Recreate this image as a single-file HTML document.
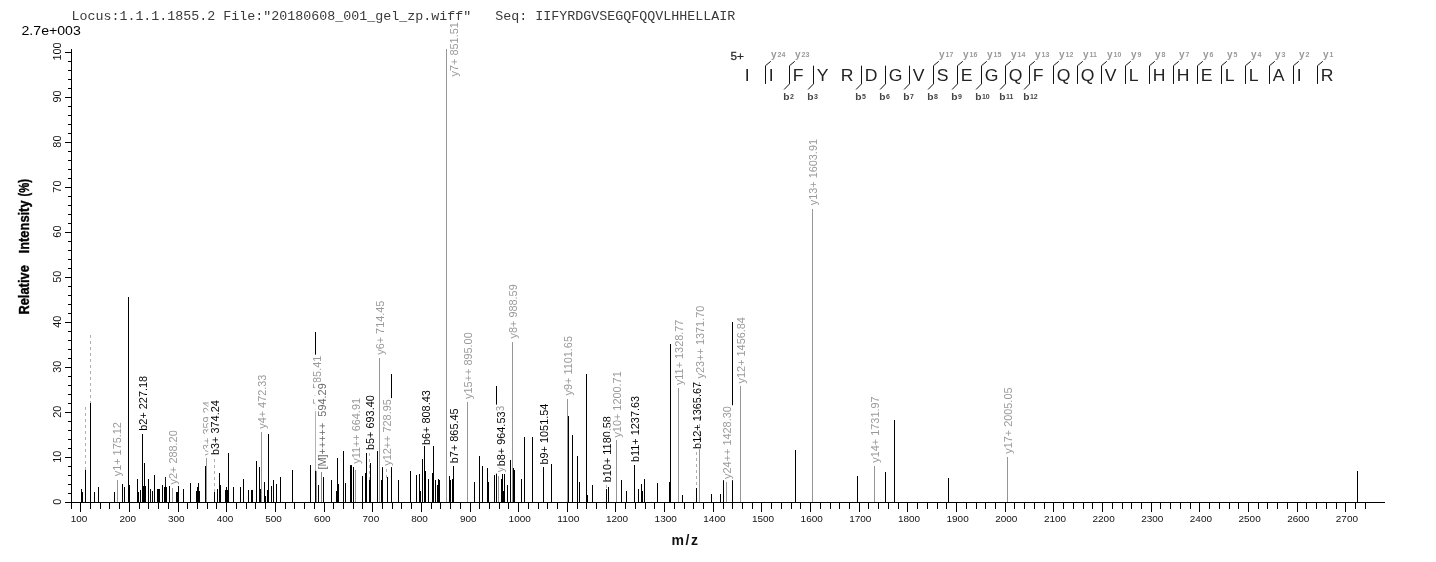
<!DOCTYPE html>
<html><head><meta charset="utf-8"><title>spectrum</title>
<style>html,body{margin:0;padding:0;background:#fff;}body{width:1436px;height:562px;overflow:hidden;position:relative;font-family:"Liberation Sans",sans-serif;}</style></head>
<body>
<svg width="1436" height="562" viewBox="0 0 1436 562" style="position:absolute;left:0;top:0;will-change:transform" font-family="'Liberation Sans', sans-serif">
<rect width="1436" height="562" fill="#fff"/>
<text x="71.4" y="20.2" font-family="'Liberation Mono', monospace" font-size="13.33" fill="#3a3a3a" xml:space="preserve">Locus:1.1.1.1855.2 File:"20180608_001_gel_zp.wiff"   Seq: IIFYRDGVSEGQFQQVLHHELLAIR</text>
<text x="21.5" y="35" font-size="12" fill="#000" textLength="59.3" lengthAdjust="spacingAndGlyphs">2.7e+003</text>
<g fill="#000" shape-rendering="crispEdges">
<rect x="71" y="49" width="1" height="454"/>
<rect x="65" y="502" width="1320" height="1"/>
<rect x="65" y="502" width="7" height="1"/>
<rect x="68" y="493" width="4" height="1"/>
<rect x="68" y="484" width="4" height="1"/>
<rect x="68" y="475" width="4" height="1"/>
<rect x="68" y="466" width="4" height="1"/>
<rect x="65" y="457" width="7" height="1"/>
<rect x="68" y="448" width="4" height="1"/>
<rect x="68" y="439" width="4" height="1"/>
<rect x="68" y="430" width="4" height="1"/>
<rect x="68" y="421" width="4" height="1"/>
<rect x="65" y="412" width="7" height="1"/>
<rect x="68" y="403" width="4" height="1"/>
<rect x="68" y="394" width="4" height="1"/>
<rect x="68" y="385" width="4" height="1"/>
<rect x="68" y="376" width="4" height="1"/>
<rect x="65" y="367" width="7" height="1"/>
<rect x="68" y="358" width="4" height="1"/>
<rect x="68" y="349" width="4" height="1"/>
<rect x="68" y="340" width="4" height="1"/>
<rect x="68" y="331" width="4" height="1"/>
<rect x="65" y="322" width="7" height="1"/>
<rect x="68" y="313" width="4" height="1"/>
<rect x="68" y="304" width="4" height="1"/>
<rect x="68" y="295" width="4" height="1"/>
<rect x="68" y="286" width="4" height="1"/>
<rect x="65" y="277" width="7" height="1"/>
<rect x="68" y="268" width="4" height="1"/>
<rect x="68" y="259" width="4" height="1"/>
<rect x="68" y="250" width="4" height="1"/>
<rect x="68" y="241" width="4" height="1"/>
<rect x="65" y="232" width="7" height="1"/>
<rect x="68" y="223" width="4" height="1"/>
<rect x="68" y="214" width="4" height="1"/>
<rect x="68" y="205" width="4" height="1"/>
<rect x="68" y="196" width="4" height="1"/>
<rect x="65" y="187" width="7" height="1"/>
<rect x="68" y="178" width="4" height="1"/>
<rect x="68" y="169" width="4" height="1"/>
<rect x="68" y="160" width="4" height="1"/>
<rect x="68" y="151" width="4" height="1"/>
<rect x="65" y="142" width="7" height="1"/>
<rect x="68" y="133" width="4" height="1"/>
<rect x="68" y="124" width="4" height="1"/>
<rect x="68" y="115" width="4" height="1"/>
<rect x="68" y="106" width="4" height="1"/>
<rect x="65" y="97" width="7" height="1"/>
<rect x="68" y="88" width="4" height="1"/>
<rect x="68" y="79" width="4" height="1"/>
<rect x="68" y="70" width="4" height="1"/>
<rect x="68" y="61" width="4" height="1"/>
<rect x="65" y="52" width="7" height="1"/>
<rect x="71" y="502" width="1" height="7"/>
<rect x="80" y="502" width="1" height="10"/>
<rect x="90" y="502" width="1" height="7"/>
<rect x="100" y="502" width="1" height="7"/>
<rect x="109" y="502" width="1" height="7"/>
<rect x="119" y="502" width="1" height="7"/>
<rect x="129" y="502" width="1" height="10"/>
<rect x="139" y="502" width="1" height="7"/>
<rect x="148" y="502" width="1" height="7"/>
<rect x="158" y="502" width="1" height="7"/>
<rect x="168" y="502" width="1" height="7"/>
<rect x="178" y="502" width="1" height="10"/>
<rect x="187" y="502" width="1" height="7"/>
<rect x="197" y="502" width="1" height="7"/>
<rect x="207" y="502" width="1" height="7"/>
<rect x="216" y="502" width="1" height="7"/>
<rect x="226" y="502" width="1" height="10"/>
<rect x="236" y="502" width="1" height="7"/>
<rect x="246" y="502" width="1" height="7"/>
<rect x="255" y="502" width="1" height="7"/>
<rect x="265" y="502" width="1" height="7"/>
<rect x="275" y="502" width="1" height="10"/>
<rect x="285" y="502" width="1" height="7"/>
<rect x="294" y="502" width="1" height="7"/>
<rect x="304" y="502" width="1" height="7"/>
<rect x="314" y="502" width="1" height="7"/>
<rect x="324" y="502" width="1" height="10"/>
<rect x="333" y="502" width="1" height="7"/>
<rect x="343" y="502" width="1" height="7"/>
<rect x="353" y="502" width="1" height="7"/>
<rect x="362" y="502" width="1" height="7"/>
<rect x="372" y="502" width="1" height="10"/>
<rect x="382" y="502" width="1" height="7"/>
<rect x="392" y="502" width="1" height="7"/>
<rect x="401" y="502" width="1" height="7"/>
<rect x="411" y="502" width="1" height="7"/>
<rect x="421" y="502" width="1" height="10"/>
<rect x="431" y="502" width="1" height="7"/>
<rect x="440" y="502" width="1" height="7"/>
<rect x="450" y="502" width="1" height="7"/>
<rect x="460" y="502" width="1" height="7"/>
<rect x="470" y="502" width="1" height="10"/>
<rect x="479" y="502" width="1" height="7"/>
<rect x="489" y="502" width="1" height="7"/>
<rect x="499" y="502" width="1" height="7"/>
<rect x="508" y="502" width="1" height="7"/>
<rect x="518" y="502" width="1" height="10"/>
<rect x="528" y="502" width="1" height="7"/>
<rect x="538" y="502" width="1" height="7"/>
<rect x="547" y="502" width="1" height="7"/>
<rect x="557" y="502" width="1" height="7"/>
<rect x="567" y="502" width="1" height="10"/>
<rect x="577" y="502" width="1" height="7"/>
<rect x="586" y="502" width="1" height="7"/>
<rect x="596" y="502" width="1" height="7"/>
<rect x="606" y="502" width="1" height="7"/>
<rect x="615" y="502" width="1" height="10"/>
<rect x="625" y="502" width="1" height="7"/>
<rect x="635" y="502" width="1" height="7"/>
<rect x="645" y="502" width="1" height="7"/>
<rect x="654" y="502" width="1" height="7"/>
<rect x="664" y="502" width="1" height="10"/>
<rect x="674" y="502" width="1" height="7"/>
<rect x="684" y="502" width="1" height="7"/>
<rect x="693" y="502" width="1" height="7"/>
<rect x="703" y="502" width="1" height="7"/>
<rect x="713" y="502" width="1" height="10"/>
<rect x="723" y="502" width="1" height="7"/>
<rect x="732" y="502" width="1" height="7"/>
<rect x="742" y="502" width="1" height="7"/>
<rect x="752" y="502" width="1" height="7"/>
<rect x="761" y="502" width="1" height="10"/>
<rect x="771" y="502" width="1" height="7"/>
<rect x="781" y="502" width="1" height="7"/>
<rect x="791" y="502" width="1" height="7"/>
<rect x="800" y="502" width="1" height="7"/>
<rect x="810" y="502" width="1" height="10"/>
<rect x="820" y="502" width="1" height="7"/>
<rect x="830" y="502" width="1" height="7"/>
<rect x="839" y="502" width="1" height="7"/>
<rect x="849" y="502" width="1" height="7"/>
<rect x="859" y="502" width="1" height="10"/>
<rect x="868" y="502" width="1" height="7"/>
<rect x="878" y="502" width="1" height="7"/>
<rect x="888" y="502" width="1" height="7"/>
<rect x="898" y="502" width="1" height="7"/>
<rect x="907" y="502" width="1" height="10"/>
<rect x="917" y="502" width="1" height="7"/>
<rect x="927" y="502" width="1" height="7"/>
<rect x="937" y="502" width="1" height="7"/>
<rect x="946" y="502" width="1" height="7"/>
<rect x="956" y="502" width="1" height="10"/>
<rect x="966" y="502" width="1" height="7"/>
<rect x="976" y="502" width="1" height="7"/>
<rect x="985" y="502" width="1" height="7"/>
<rect x="995" y="502" width="1" height="7"/>
<rect x="1005" y="502" width="1" height="10"/>
<rect x="1014" y="502" width="1" height="7"/>
<rect x="1024" y="502" width="1" height="7"/>
<rect x="1034" y="502" width="1" height="7"/>
<rect x="1044" y="502" width="1" height="7"/>
<rect x="1053" y="502" width="1" height="10"/>
<rect x="1063" y="502" width="1" height="7"/>
<rect x="1073" y="502" width="1" height="7"/>
<rect x="1083" y="502" width="1" height="7"/>
<rect x="1092" y="502" width="1" height="7"/>
<rect x="1102" y="502" width="1" height="10"/>
<rect x="1112" y="502" width="1" height="7"/>
<rect x="1122" y="502" width="1" height="7"/>
<rect x="1131" y="502" width="1" height="7"/>
<rect x="1141" y="502" width="1" height="7"/>
<rect x="1151" y="502" width="1" height="10"/>
<rect x="1160" y="502" width="1" height="7"/>
<rect x="1170" y="502" width="1" height="7"/>
<rect x="1180" y="502" width="1" height="7"/>
<rect x="1190" y="502" width="1" height="7"/>
<rect x="1199" y="502" width="1" height="10"/>
<rect x="1209" y="502" width="1" height="7"/>
<rect x="1219" y="502" width="1" height="7"/>
<rect x="1229" y="502" width="1" height="7"/>
<rect x="1238" y="502" width="1" height="7"/>
<rect x="1248" y="502" width="1" height="10"/>
<rect x="1258" y="502" width="1" height="7"/>
<rect x="1267" y="502" width="1" height="7"/>
<rect x="1277" y="502" width="1" height="7"/>
<rect x="1287" y="502" width="1" height="7"/>
<rect x="1297" y="502" width="1" height="10"/>
<rect x="1306" y="502" width="1" height="7"/>
<rect x="1316" y="502" width="1" height="7"/>
<rect x="1326" y="502" width="1" height="7"/>
<rect x="1336" y="502" width="1" height="7"/>
<rect x="1345" y="502" width="1" height="10"/>
<rect x="1355" y="502" width="1" height="7"/>
<rect x="1365" y="502" width="1" height="7"/>
</g>
<g font-size="9.4" fill="#111">
<text x="70.7" y="521.8" textLength="16.6" lengthAdjust="spacingAndGlyphs">100</text>
<text x="119.4" y="521.8" textLength="16.6" lengthAdjust="spacingAndGlyphs">200</text>
<text x="168.0" y="521.8" textLength="16.6" lengthAdjust="spacingAndGlyphs">300</text>
<text x="216.7" y="521.8" textLength="16.6" lengthAdjust="spacingAndGlyphs">400</text>
<text x="265.3" y="521.8" textLength="16.6" lengthAdjust="spacingAndGlyphs">500</text>
<text x="314.0" y="521.8" textLength="16.6" lengthAdjust="spacingAndGlyphs">600</text>
<text x="362.6" y="521.8" textLength="16.6" lengthAdjust="spacingAndGlyphs">700</text>
<text x="411.3" y="521.8" textLength="16.6" lengthAdjust="spacingAndGlyphs">800</text>
<text x="460.0" y="521.8" textLength="16.6" lengthAdjust="spacingAndGlyphs">900</text>
<text x="508.6" y="521.8" textLength="22.2" lengthAdjust="spacingAndGlyphs">1000</text>
<text x="557.3" y="521.8" textLength="22.2" lengthAdjust="spacingAndGlyphs">1100</text>
<text x="605.9" y="521.8" textLength="22.2" lengthAdjust="spacingAndGlyphs">1200</text>
<text x="654.6" y="521.8" textLength="22.2" lengthAdjust="spacingAndGlyphs">1300</text>
<text x="703.3" y="521.8" textLength="22.2" lengthAdjust="spacingAndGlyphs">1400</text>
<text x="751.9" y="521.8" textLength="22.2" lengthAdjust="spacingAndGlyphs">1500</text>
<text x="800.6" y="521.8" textLength="22.2" lengthAdjust="spacingAndGlyphs">1600</text>
<text x="849.2" y="521.8" textLength="22.2" lengthAdjust="spacingAndGlyphs">1700</text>
<text x="897.9" y="521.8" textLength="22.2" lengthAdjust="spacingAndGlyphs">1800</text>
<text x="946.5" y="521.8" textLength="22.2" lengthAdjust="spacingAndGlyphs">1900</text>
<text x="995.2" y="521.8" textLength="22.2" lengthAdjust="spacingAndGlyphs">2000</text>
<text x="1043.9" y="521.8" textLength="22.2" lengthAdjust="spacingAndGlyphs">2100</text>
<text x="1092.5" y="521.8" textLength="22.2" lengthAdjust="spacingAndGlyphs">2200</text>
<text x="1141.2" y="521.8" textLength="22.2" lengthAdjust="spacingAndGlyphs">2300</text>
<text x="1189.8" y="521.8" textLength="22.2" lengthAdjust="spacingAndGlyphs">2400</text>
<text x="1238.5" y="521.8" textLength="22.2" lengthAdjust="spacingAndGlyphs">2500</text>
<text x="1287.2" y="521.8" textLength="22.2" lengthAdjust="spacingAndGlyphs">2600</text>
<text x="1335.8" y="521.8" textLength="22.2" lengthAdjust="spacingAndGlyphs">2700</text>
</g>
<g font-size="10.9" fill="#111" text-anchor="middle">
<text transform="translate(61.0,501.8) rotate(-90)">0</text>
<text transform="translate(61.0,456.8) rotate(-90)">10</text>
<text transform="translate(61.0,411.7) rotate(-90)">20</text>
<text transform="translate(61.0,366.7) rotate(-90)">30</text>
<text transform="translate(61.0,321.7) rotate(-90)">40</text>
<text transform="translate(61.0,276.7) rotate(-90)">50</text>
<text transform="translate(61.0,231.6) rotate(-90)">60</text>
<text transform="translate(61.0,186.6) rotate(-90)">70</text>
<text transform="translate(61.0,141.6) rotate(-90)">80</text>
<text transform="translate(61.0,96.5) rotate(-90)">90</text>
<text transform="translate(61.0,51.5) rotate(-90)">100</text>
</g>
<text x="671.5" y="545" font-size="14" font-weight="bold" fill="#111" letter-spacing="1.6">m/z</text>
<g font-size="12.9" font-weight="bold" fill="#000" stroke="#000" stroke-width="0.35">
<text transform="translate(29.3,314.6) rotate(-90) scale(1,1.07)">Relative</text>
<text transform="translate(29.3,253.4) rotate(-90) scale(1,1.07)">Intensity</text>
<text transform="translate(29.3,196.4) rotate(-90) scale(1,1.07)" textLength="17.5" lengthAdjust="spacingAndGlyphs">(%)</text>
</g>
<g shape-rendering="crispEdges">
<rect x="81" y="489" width="1" height="13" fill="#000"/>
<rect x="82" y="492" width="1" height="10" fill="#000"/>
<rect x="85" y="470" width="1" height="32" fill="#000"/>
<rect x="90" y="403" width="1" height="99" fill="#000"/>
<rect x="94" y="492" width="1" height="10" fill="#000"/>
<rect x="98" y="487" width="1" height="15" fill="#000"/>
<rect x="114" y="492" width="1" height="10" fill="#000"/>
<rect x="122" y="484" width="1" height="18" fill="#000"/>
<rect x="124" y="487" width="1" height="15" fill="#000"/>
<rect x="128" y="297" width="1" height="205" fill="#000"/>
<rect x="129" y="485" width="1" height="17" fill="#000"/>
<rect x="137" y="479" width="1" height="23" fill="#000"/>
<rect x="138" y="492" width="1" height="10" fill="#000"/>
<rect x="140" y="490" width="1" height="12" fill="#000"/>
<rect x="143" y="486" width="1" height="16" fill="#000"/>
<rect x="144" y="463" width="1" height="39" fill="#000"/>
<rect x="145" y="486" width="1" height="16" fill="#000"/>
<rect x="148" y="479" width="1" height="23" fill="#000"/>
<rect x="150" y="489" width="1" height="13" fill="#000"/>
<rect x="152" y="491" width="1" height="11" fill="#000"/>
<rect x="154" y="475" width="1" height="27" fill="#000"/>
<rect x="157" y="489" width="1" height="13" fill="#000"/>
<rect x="158" y="489" width="1" height="13" fill="#000"/>
<rect x="159" y="489" width="1" height="13" fill="#000"/>
<rect x="162" y="485" width="1" height="17" fill="#000"/>
<rect x="164" y="487" width="1" height="15" fill="#000"/>
<rect x="165" y="477" width="1" height="25" fill="#000"/>
<rect x="166" y="487" width="1" height="15" fill="#000"/>
<rect x="169" y="486" width="1" height="16" fill="#000"/>
<rect x="176" y="492" width="1" height="10" fill="#000"/>
<rect x="177" y="492" width="1" height="10" fill="#000"/>
<rect x="178" y="486" width="1" height="16" fill="#000"/>
<rect x="183" y="489" width="1" height="13" fill="#000"/>
<rect x="190" y="483" width="1" height="19" fill="#000"/>
<rect x="196" y="491" width="1" height="11" fill="#000"/>
<rect x="197" y="487" width="1" height="15" fill="#000"/>
<rect x="198" y="483" width="1" height="19" fill="#000"/>
<rect x="199" y="491" width="1" height="11" fill="#000"/>
<rect x="205" y="466" width="1" height="36" fill="#000"/>
<rect x="217" y="489" width="1" height="13" fill="#000"/>
<rect x="219" y="473" width="1" height="29" fill="#000"/>
<rect x="220" y="485" width="1" height="17" fill="#000"/>
<rect x="225" y="490" width="1" height="12" fill="#000"/>
<rect x="226" y="487" width="1" height="15" fill="#000"/>
<rect x="227" y="490" width="1" height="12" fill="#000"/>
<rect x="228" y="453" width="1" height="49" fill="#000"/>
<rect x="233" y="487" width="1" height="15" fill="#000"/>
<rect x="240" y="487" width="1" height="15" fill="#000"/>
<rect x="243" y="479" width="1" height="23" fill="#000"/>
<rect x="248" y="490" width="1" height="12" fill="#000"/>
<rect x="251" y="490" width="1" height="12" fill="#000"/>
<rect x="252" y="490" width="1" height="12" fill="#000"/>
<rect x="256" y="461" width="1" height="41" fill="#000"/>
<rect x="259" y="467" width="1" height="35" fill="#000"/>
<rect x="260" y="489" width="1" height="13" fill="#000"/>
<rect x="264" y="482" width="1" height="20" fill="#000"/>
<rect x="265" y="496" width="1" height="6" fill="#000"/>
<rect x="267" y="490" width="1" height="12" fill="#000"/>
<rect x="268" y="434" width="1" height="68" fill="#000"/>
<rect x="271" y="486" width="1" height="16" fill="#000"/>
<rect x="273" y="480" width="1" height="22" fill="#000"/>
<rect x="276" y="484" width="1" height="18" fill="#000"/>
<rect x="280" y="477" width="1" height="25" fill="#000"/>
<rect x="292" y="470" width="1" height="32" fill="#000"/>
<rect x="310" y="465" width="1" height="37" fill="#000"/>
<rect x="315" y="332" width="1" height="170" fill="#000"/>
<rect x="318" y="485" width="1" height="17" fill="#000"/>
<rect x="323" y="477" width="1" height="25" fill="#000"/>
<rect x="331" y="480" width="1" height="22" fill="#000"/>
<rect x="336" y="491" width="1" height="11" fill="#000"/>
<rect x="337" y="458" width="1" height="44" fill="#000"/>
<rect x="338" y="484" width="1" height="18" fill="#000"/>
<rect x="343" y="451" width="1" height="51" fill="#000"/>
<rect x="345" y="483" width="1" height="19" fill="#000"/>
<rect x="350" y="465" width="1" height="37" fill="#000"/>
<rect x="351" y="465" width="1" height="37" fill="#000"/>
<rect x="353" y="467" width="1" height="35" fill="#000"/>
<rect x="362" y="476" width="1" height="26" fill="#000"/>
<rect x="365" y="473" width="1" height="29" fill="#000"/>
<rect x="366" y="453" width="1" height="49" fill="#000"/>
<rect x="370" y="463" width="1" height="39" fill="#000"/>
<rect x="377" y="451" width="1" height="51" fill="#000"/>
<rect x="381" y="480" width="1" height="22" fill="#000"/>
<rect x="382" y="466" width="1" height="36" fill="#000"/>
<rect x="387" y="477" width="1" height="25" fill="#000"/>
<rect x="391" y="374" width="1" height="128" fill="#000"/>
<rect x="398" y="480" width="1" height="22" fill="#000"/>
<rect x="410" y="471" width="1" height="31" fill="#000"/>
<rect x="416" y="475" width="1" height="27" fill="#000"/>
<rect x="419" y="474" width="1" height="28" fill="#000"/>
<rect x="420" y="491" width="1" height="11" fill="#000"/>
<rect x="422" y="459" width="1" height="43" fill="#000"/>
<rect x="425" y="471" width="1" height="31" fill="#000"/>
<rect x="428" y="479" width="1" height="23" fill="#000"/>
<rect x="432" y="473" width="1" height="29" fill="#000"/>
<rect x="433" y="446" width="1" height="56" fill="#000"/>
<rect x="435" y="480" width="1" height="22" fill="#000"/>
<rect x="437" y="485" width="1" height="17" fill="#000"/>
<rect x="438" y="479" width="1" height="23" fill="#000"/>
<rect x="439" y="480" width="1" height="22" fill="#000"/>
<rect x="449" y="476" width="1" height="26" fill="#000"/>
<rect x="450" y="480" width="1" height="22" fill="#000"/>
<rect x="452" y="479" width="1" height="23" fill="#000"/>
<rect x="474" y="482" width="1" height="20" fill="#000"/>
<rect x="479" y="456" width="1" height="46" fill="#000"/>
<rect x="482" y="466" width="1" height="36" fill="#000"/>
<rect x="487" y="468" width="1" height="34" fill="#000"/>
<rect x="488" y="482" width="1" height="20" fill="#000"/>
<rect x="494" y="475" width="1" height="27" fill="#000"/>
<rect x="496" y="386" width="1" height="116" fill="#000"/>
<rect x="501" y="479" width="1" height="23" fill="#000"/>
<rect x="502" y="474" width="1" height="28" fill="#000"/>
<rect x="503" y="491" width="1" height="11" fill="#000"/>
<rect x="504" y="474" width="1" height="28" fill="#000"/>
<rect x="507" y="485" width="1" height="17" fill="#000"/>
<rect x="510" y="460" width="1" height="42" fill="#000"/>
<rect x="513" y="468" width="1" height="34" fill="#000"/>
<rect x="514" y="470" width="1" height="32" fill="#000"/>
<rect x="521" y="479" width="1" height="23" fill="#000"/>
<rect x="524" y="437" width="1" height="65" fill="#000"/>
<rect x="532" y="437" width="1" height="65" fill="#000"/>
<rect x="551" y="464" width="1" height="38" fill="#000"/>
<rect x="568" y="416" width="1" height="86" fill="#000"/>
<rect x="572" y="435" width="1" height="67" fill="#000"/>
<rect x="577" y="456" width="1" height="46" fill="#000"/>
<rect x="579" y="482" width="1" height="20" fill="#000"/>
<rect x="586" y="374" width="1" height="128" fill="#000"/>
<rect x="587" y="495" width="1" height="7" fill="#000"/>
<rect x="592" y="485" width="1" height="17" fill="#000"/>
<rect x="608" y="487" width="1" height="15" fill="#000"/>
<rect x="621" y="480" width="1" height="22" fill="#000"/>
<rect x="626" y="491" width="1" height="11" fill="#000"/>
<rect x="638" y="489" width="1" height="13" fill="#000"/>
<rect x="641" y="484" width="1" height="18" fill="#000"/>
<rect x="642" y="491" width="1" height="11" fill="#000"/>
<rect x="644" y="479" width="1" height="23" fill="#000"/>
<rect x="657" y="483" width="1" height="19" fill="#000"/>
<rect x="669" y="482" width="1" height="20" fill="#000"/>
<rect x="670" y="344" width="1" height="158" fill="#000"/>
<rect x="682" y="495" width="1" height="7" fill="#000"/>
<rect x="711" y="494" width="1" height="8" fill="#000"/>
<rect x="720" y="494" width="1" height="8" fill="#000"/>
<rect x="723" y="480" width="1" height="22" fill="#000"/>
<rect x="732" y="322" width="1" height="180" fill="#000"/>
<rect x="795" y="450" width="1" height="52" fill="#000"/>
<rect x="857" y="476" width="1" height="26" fill="#000"/>
<rect x="885" y="472" width="1" height="30" fill="#000"/>
<rect x="894" y="420" width="1" height="82" fill="#000"/>
<rect x="948" y="478" width="1" height="24" fill="#000"/>
<rect x="1357" y="471" width="1" height="31" fill="#000"/>
</g>
<g>
<g shape-rendering="crispEdges">
<rect x="85" y="470" width="1" height="32" fill="#000"/>
<rect x="85" y="407" width="1" height="3" fill="#b0b0b0"/>
<rect x="85" y="413" width="1" height="3" fill="#b0b0b0"/>
<rect x="85" y="419" width="1" height="3" fill="#b0b0b0"/>
<rect x="85" y="425" width="1" height="3" fill="#b0b0b0"/>
<rect x="85" y="431" width="1" height="3" fill="#b0b0b0"/>
<rect x="85" y="437" width="1" height="3" fill="#b0b0b0"/>
<rect x="85" y="443" width="1" height="3" fill="#b0b0b0"/>
<rect x="85" y="449" width="1" height="3" fill="#b0b0b0"/>
<rect x="85" y="455" width="1" height="3" fill="#b0b0b0"/>
<rect x="85" y="461" width="1" height="3" fill="#b0b0b0"/>
<rect x="85" y="467" width="1" height="3" fill="#b0b0b0"/>
</g>
</g>
<g>
<g shape-rendering="crispEdges">
<rect x="90" y="403" width="1" height="99" fill="#000"/>
<rect x="90" y="335" width="1" height="3" fill="#b0b0b0"/>
<rect x="90" y="341" width="1" height="3" fill="#b0b0b0"/>
<rect x="90" y="347" width="1" height="3" fill="#b0b0b0"/>
<rect x="90" y="353" width="1" height="3" fill="#b0b0b0"/>
<rect x="90" y="359" width="1" height="3" fill="#b0b0b0"/>
<rect x="90" y="365" width="1" height="3" fill="#b0b0b0"/>
<rect x="90" y="371" width="1" height="3" fill="#b0b0b0"/>
<rect x="90" y="377" width="1" height="3" fill="#b0b0b0"/>
<rect x="90" y="383" width="1" height="3" fill="#b0b0b0"/>
<rect x="90" y="389" width="1" height="3" fill="#b0b0b0"/>
<rect x="90" y="395" width="1" height="3" fill="#b0b0b0"/>
<rect x="90" y="401" width="1" height="2" fill="#b0b0b0"/>
</g>
</g>
<g>
<rect x="110.5" y="421.1" width="14" height="56.5" fill="#fff"/>
<g shape-rendering="crispEdges">
<rect x="117" y="480" width="1" height="22" fill="#969696"/>
</g>
<text transform="translate(121.4,476.3) rotate(-90)" font-size="10.9" fill="#999999" xml:space="preserve">y1+ 175.12</text>
</g>
<g>
<rect x="136.3" y="374.9" width="14" height="57.1" fill="#fff"/>
<g shape-rendering="crispEdges">
<rect x="142" y="434" width="1" height="68" fill="#000"/>
</g>
<text transform="translate(147.2,430.7) rotate(-90)" font-size="10.9" fill="#000" xml:space="preserve">b2+ 227.18</text>
</g>
<g>
<rect x="165.9" y="429.3" width="14" height="56.5" fill="#fff"/>
<g shape-rendering="crispEdges">
<rect x="172" y="488" width="1" height="14" fill="#969696"/>
</g>
<text transform="translate(176.8,484.5) rotate(-90)" font-size="10.9" fill="#999999" xml:space="preserve">y2+ 288.20</text>
</g>
<g>
<rect x="200.0" y="400.2" width="14" height="56.5" fill="#fff"/>
<g shape-rendering="crispEdges">
<rect x="206" y="458" width="1" height="44" fill="#969696"/>
</g>
<text transform="translate(210.9,455.4) rotate(-90)" font-size="10.9" fill="#999999" xml:space="preserve">y3+ 359.24</text>
</g>
<g>
<rect x="208.3" y="399.2" width="14" height="57.1" fill="#fff"/>
<g shape-rendering="crispEdges">
<rect x="214" y="492" width="1" height="10" fill="#000"/>
<rect x="214" y="459" width="1" height="3" fill="#b0b0b0"/>
<rect x="214" y="465" width="1" height="3" fill="#b0b0b0"/>
<rect x="214" y="471" width="1" height="3" fill="#b0b0b0"/>
<rect x="214" y="477" width="1" height="3" fill="#b0b0b0"/>
<rect x="214" y="483" width="1" height="3" fill="#b0b0b0"/>
<rect x="214" y="489" width="1" height="3" fill="#b0b0b0"/>
</g>
<text transform="translate(219.2,455.0) rotate(-90)" font-size="10.9" fill="#000" xml:space="preserve">b3+ 374.24</text>
</g>
<g>
<rect x="255.2" y="373.6" width="14" height="56.5" fill="#fff"/>
<g shape-rendering="crispEdges">
<rect x="261" y="432" width="1" height="70" fill="#969696"/>
</g>
<text transform="translate(266.1,428.8) rotate(-90)" font-size="10.9" fill="#999999" xml:space="preserve">y4+ 472.33</text>
</g>
<g>
<rect x="310.1" y="354.7" width="14" height="56.5" fill="#fff"/>
<g shape-rendering="crispEdges">
<rect x="316" y="414" width="1" height="88" fill="#969696"/>
</g>
<text transform="translate(321.0,409.9) rotate(-90)" font-size="10.9" fill="#999999" xml:space="preserve">y5+ 585.41</text>
</g>
<g>
<rect x="315.3" y="382.2" width="14" height="88.7" fill="#fff"/>
<g shape-rendering="crispEdges">
<rect x="321" y="472" width="1" height="30" fill="#888"/>
</g>
<text transform="translate(326.2,469.6) rotate(-90)" font-size="10.9" fill="#6a6a6a" xml:space="preserve">[M]+++++  594.29</text>
</g>
<g>
<rect x="349.1" y="396.1" width="14" height="69.0" fill="#fff"/>
<g shape-rendering="crispEdges">
<rect x="355" y="470" width="1" height="32" fill="#969696"/>
</g>
<text transform="translate(360.0,463.8) rotate(-90)" font-size="10.9" fill="#999999" xml:space="preserve">y11++ 664.91</text>
</g>
<g>
<rect x="363.1" y="394.2" width="14" height="57.1" fill="#fff"/>
<g shape-rendering="crispEdges">
<rect x="369" y="480" width="1" height="22" fill="#000"/>
<rect x="369" y="453" width="1" height="3" fill="#b0b0b0"/>
<rect x="369" y="459" width="1" height="3" fill="#b0b0b0"/>
<rect x="369" y="465" width="1" height="3" fill="#b0b0b0"/>
<rect x="369" y="471" width="1" height="3" fill="#b0b0b0"/>
<rect x="369" y="477" width="1" height="3" fill="#b0b0b0"/>
</g>
<text transform="translate(374.0,450.0) rotate(-90)" font-size="10.9" fill="#000" xml:space="preserve">b5+ 693.40</text>
</g>
<g>
<rect x="372.9" y="299.6" width="14" height="56.5" fill="#fff"/>
<g shape-rendering="crispEdges">
<rect x="379" y="358" width="1" height="144" fill="#969696"/>
</g>
<text transform="translate(383.8,354.8) rotate(-90)" font-size="10.9" fill="#999999" xml:space="preserve">y6+ 714.45</text>
</g>
<g>
<rect x="380.0" y="398.1" width="14" height="69.0" fill="#fff"/>
<g shape-rendering="crispEdges">
<rect x="386" y="469" width="1" height="3" fill="#b0b0b0"/>
<rect x="386" y="475" width="1" height="3" fill="#b0b0b0"/>
</g>
<text transform="translate(390.9,465.8) rotate(-90)" font-size="10.9" fill="#999999" xml:space="preserve">y12++ 728.95</text>
</g>
<g>
<rect x="418.9" y="389.2" width="14" height="57.1" fill="#fff"/>
<g shape-rendering="crispEdges">
<rect x="424" y="446" width="1" height="56" fill="#000"/>
</g>
<text transform="translate(429.8,445.0) rotate(-90)" font-size="10.9" fill="#000" xml:space="preserve">b6+ 808.43</text>
</g>
<g>
<rect x="446.7" y="24.0" width="14" height="53.7" fill="#fff"/>
<g shape-rendering="crispEdges">
<rect x="446" y="49" width="1" height="453" fill="#969696"/>
</g>
<text transform="translate(457.6,76.4) rotate(-90)" font-size="10.9" fill="#999999" xml:space="preserve">y7+ 851.51</text>
</g>
<g>
<rect x="447.3" y="407.4" width="14" height="57.1" fill="#fff"/>
<g shape-rendering="crispEdges">
<rect x="453" y="466" width="1" height="36" fill="#000"/>
</g>
<text transform="translate(458.2,463.2) rotate(-90)" font-size="10.9" fill="#000" xml:space="preserve">b7+ 865.45</text>
</g>
<g>
<rect x="461.1" y="331.2" width="14" height="69.0" fill="#fff"/>
<g shape-rendering="crispEdges">
<rect x="467" y="402" width="1" height="100" fill="#969696"/>
</g>
<text transform="translate(472.0,398.9) rotate(-90)" font-size="10.9" fill="#999999" xml:space="preserve">y15++ 895.00</text>
</g>
<g>
<rect x="493.3" y="404.6" width="14" height="69.0" fill="#fff"/>
<g shape-rendering="crispEdges">
<rect x="498" y="476" width="1" height="26" fill="#969696"/>
</g>
<text transform="translate(504.2,472.3) rotate(-90)" font-size="10.9" fill="#999999" xml:space="preserve">y16++ 959.53</text>
</g>
<g>
<rect x="494.4" y="410.5" width="14" height="57.1" fill="#fff"/>
<g shape-rendering="crispEdges">
</g>
<text transform="translate(505.3,466.3) rotate(-90)" font-size="10.9" fill="#000" xml:space="preserve">b8+ 964.53</text>
</g>
<g>
<rect x="505.9" y="283.3" width="14" height="56.5" fill="#fff"/>
<g shape-rendering="crispEdges">
<rect x="512" y="342" width="1" height="160" fill="#969696"/>
</g>
<text transform="translate(516.8,338.5) rotate(-90)" font-size="10.9" fill="#999999" xml:space="preserve">y8+ 988.59</text>
</g>
<g>
<rect x="536.9" y="402.6" width="14" height="63.2" fill="#fff"/>
<g shape-rendering="crispEdges">
<rect x="543" y="467" width="1" height="35" fill="#000"/>
</g>
<text transform="translate(547.8,464.5) rotate(-90)" font-size="10.9" fill="#000" xml:space="preserve">b9+ 1051.54</text>
</g>
<g>
<rect x="560.9" y="334.2" width="14" height="62.6" fill="#fff"/>
<g shape-rendering="crispEdges">
<rect x="567" y="399" width="1" height="103" fill="#969696"/>
</g>
<text transform="translate(571.8,395.5) rotate(-90)" font-size="10.9" fill="#999999" xml:space="preserve">y9+ 1101.65</text>
</g>
<g>
<rect x="600.1" y="414.2" width="14" height="69.3" fill="#fff"/>
<g shape-rendering="crispEdges">
<rect x="606" y="489" width="1" height="13" fill="#000"/>
<rect x="606" y="485" width="1" height="3" fill="#b0b0b0"/>
</g>
<text transform="translate(611.0,482.2) rotate(-90)" font-size="10.9" fill="#000" xml:space="preserve">b10+ 1180.58</text>
</g>
<g>
<rect x="609.9" y="430.6" width="2" height="6" fill="#fff"/>
<rect x="610.4" y="370.2" width="14" height="66.8" fill="#fff"/>
<g shape-rendering="crispEdges">
<rect x="616" y="440" width="1" height="62" fill="#969696"/>
</g>
<text transform="translate(620.9,437.6) rotate(-90)" font-size="10.9" fill="#999999" xml:space="preserve">y10+ 1200.71</text>
</g>
<g>
<rect x="628.0" y="394.0" width="14" height="69.3" fill="#fff"/>
<g shape-rendering="crispEdges">
<rect x="634" y="465" width="1" height="37" fill="#000"/>
</g>
<text transform="translate(638.9,462.0) rotate(-90)" font-size="10.9" fill="#000" xml:space="preserve">b11+ 1237.63</text>
</g>
<g>
<rect x="672.1" y="317.7" width="14" height="68.7" fill="#fff"/>
<g shape-rendering="crispEdges">
<rect x="678" y="388" width="1" height="114" fill="#969696"/>
</g>
<text transform="translate(683.0,385.1) rotate(-90)" font-size="10.9" fill="#999999" xml:space="preserve">y11+ 1328.77</text>
</g>
<g>
<rect x="689.6" y="380.9" width="14" height="69.3" fill="#fff"/>
<g shape-rendering="crispEdges">
<rect x="696" y="488" width="1" height="14" fill="#000"/>
<rect x="696" y="452" width="1" height="3" fill="#b0b0b0"/>
<rect x="696" y="458" width="1" height="3" fill="#b0b0b0"/>
<rect x="696" y="464" width="1" height="3" fill="#b0b0b0"/>
<rect x="696" y="470" width="1" height="3" fill="#b0b0b0"/>
<rect x="696" y="476" width="1" height="3" fill="#b0b0b0"/>
<rect x="696" y="482" width="1" height="3" fill="#b0b0b0"/>
</g>
<text transform="translate(700.5,448.9) rotate(-90)" font-size="10.9" fill="#000" xml:space="preserve">b12+ 1365.67</text>
</g>
<g>
<rect x="692.9" y="304.7" width="14" height="75.0" fill="#fff"/>
<g shape-rendering="crispEdges">
<rect x="699" y="450" width="1" height="52" fill="#969696"/>
<rect x="699" y="382" width="1" height="3" fill="#b0b0b0"/>
<rect x="699" y="388" width="1" height="3" fill="#b0b0b0"/>
<rect x="699" y="394" width="1" height="3" fill="#b0b0b0"/>
<rect x="699" y="400" width="1" height="3" fill="#b0b0b0"/>
<rect x="699" y="406" width="1" height="3" fill="#b0b0b0"/>
<rect x="699" y="412" width="1" height="3" fill="#b0b0b0"/>
<rect x="699" y="418" width="1" height="3" fill="#b0b0b0"/>
<rect x="699" y="424" width="1" height="3" fill="#b0b0b0"/>
<rect x="699" y="430" width="1" height="3" fill="#b0b0b0"/>
<rect x="699" y="436" width="1" height="3" fill="#b0b0b0"/>
<rect x="699" y="442" width="1" height="3" fill="#b0b0b0"/>
<rect x="699" y="448" width="1" height="2" fill="#b0b0b0"/>
</g>
<text transform="translate(703.8,378.4) rotate(-90)" font-size="10.9" fill="#999999" xml:space="preserve">y23++ 1371.70</text>
</g>
<g>
<rect x="720.1" y="405.2" width="14" height="75.0" fill="#fff"/>
<g shape-rendering="crispEdges">
<rect x="726" y="482" width="1" height="20" fill="#969696"/>
</g>
<text transform="translate(731.0,478.9) rotate(-90)" font-size="10.9" fill="#999999" xml:space="preserve">y24++ 1428.30</text>
</g>
<g>
<rect x="734.1" y="316.0" width="14" height="68.7" fill="#fff"/>
<g shape-rendering="crispEdges">
<rect x="740" y="386" width="1" height="116" fill="#969696"/>
</g>
<text transform="translate(745.0,383.4) rotate(-90)" font-size="10.9" fill="#999999" xml:space="preserve">y12+ 1456.84</text>
</g>
<g>
<rect x="806.4" y="137.9" width="14" height="68.7" fill="#fff"/>
<g shape-rendering="crispEdges">
<rect x="812" y="209" width="1" height="293" fill="#969696"/>
</g>
<text transform="translate(817.3,205.3) rotate(-90)" font-size="10.9" fill="#999999" xml:space="preserve">y13+ 1603.91</text>
</g>
<g>
<rect x="867.9" y="395.3" width="14" height="68.7" fill="#fff"/>
<g shape-rendering="crispEdges">
<rect x="874" y="466" width="1" height="36" fill="#969696"/>
</g>
<text transform="translate(878.8,462.7) rotate(-90)" font-size="10.9" fill="#999999" xml:space="preserve">y14+ 1731.97</text>
</g>
<g>
<rect x="1000.9" y="386.4" width="14" height="68.7" fill="#fff"/>
<g shape-rendering="crispEdges">
<rect x="1007" y="457" width="1" height="45" fill="#969696"/>
</g>
<text transform="translate(1011.8,453.8) rotate(-90)" font-size="10.9" fill="#999999" xml:space="preserve">y17+ 2005.05</text>
</g>
<text x="730.5" y="59.5" font-size="11.5" fill="#2a2a2a" stroke="#2a2a2a" stroke-width="0.3" textLength="13.4" lengthAdjust="spacingAndGlyphs">5+</text>
<g font-size="16" fill="#222">
<text transform="translate(744.7,80.8) scale(1.1,1)">I</text>
<text transform="translate(768.7,80.8) scale(1.1,1)">I</text>
<text transform="translate(792.7,80.8) scale(1.1,1)">F</text>
<text transform="translate(816.7,80.8) scale(1.1,1)">Y</text>
<text transform="translate(840.7,80.8) scale(1.1,1)">R</text>
<text transform="translate(864.7,80.8) scale(1.1,1)">D</text>
<text transform="translate(888.7,80.8) scale(1.1,1)">G</text>
<text transform="translate(912.7,80.8) scale(1.1,1)">V</text>
<text transform="translate(936.7,80.8) scale(1.1,1)">S</text>
<text transform="translate(960.7,80.8) scale(1.1,1)">E</text>
<text transform="translate(984.7,80.8) scale(1.1,1)">G</text>
<text transform="translate(1008.7,80.8) scale(1.1,1)">Q</text>
<text transform="translate(1032.7,80.8) scale(1.1,1)">F</text>
<text transform="translate(1056.7,80.8) scale(1.1,1)">Q</text>
<text transform="translate(1080.7,80.8) scale(1.1,1)">Q</text>
<text transform="translate(1104.7,80.8) scale(1.1,1)">V</text>
<text transform="translate(1128.7,80.8) scale(1.1,1)">L</text>
<text transform="translate(1152.7,80.8) scale(1.1,1)">H</text>
<text transform="translate(1176.7,80.8) scale(1.1,1)">H</text>
<text transform="translate(1200.7,80.8) scale(1.1,1)">E</text>
<text transform="translate(1224.7,80.8) scale(1.1,1)">L</text>
<text transform="translate(1248.7,80.8) scale(1.1,1)">L</text>
<text transform="translate(1272.7,80.8) scale(1.1,1)">A</text>
<text transform="translate(1296.7,80.8) scale(1.1,1)">I</text>
<text transform="translate(1320.7,80.8) scale(1.1,1)">R</text>
</g>
<polyline points="770.8,61.3 765.5,65.7 765.5,83.9" fill="none" stroke="#111" stroke-width="1"/>
<text x="770.9" y="58.2" font-size="10" font-weight="bold" fill="#999999">y</text>
<text x="777.5" y="57.2" font-size="7" font-weight="bold" fill="#999999">24</text>
<polyline points="794.8,61.3 789.5,65.7 789.5,83.9 784.1,89.5" fill="none" stroke="#111" stroke-width="1"/>
<text x="794.9" y="58.2" font-size="10" font-weight="bold" fill="#999999">y</text>
<text x="801.5" y="57.2" font-size="7" font-weight="bold" fill="#999999">23</text>
<text x="783.3" y="99.6" font-size="9.7" font-weight="bold" fill="#444" textLength="6.3" lengthAdjust="spacingAndGlyphs">b</text>
<text x="789.9" y="99.2" font-size="7" font-weight="bold" fill="#444">2</text>
<polyline points="813.5,65.7 813.5,83.9 808.1,89.5" fill="none" stroke="#111" stroke-width="1"/>
<text x="807.3" y="99.6" font-size="9.7" font-weight="bold" fill="#444" textLength="6.3" lengthAdjust="spacingAndGlyphs">b</text>
<text x="813.9" y="99.2" font-size="7" font-weight="bold" fill="#444">3</text>
<polyline points="861.5,65.7 861.5,83.9 856.1,89.5" fill="none" stroke="#111" stroke-width="1"/>
<text x="855.3" y="99.6" font-size="9.7" font-weight="bold" fill="#444" textLength="6.3" lengthAdjust="spacingAndGlyphs">b</text>
<text x="861.9" y="99.2" font-size="7" font-weight="bold" fill="#444">5</text>
<polyline points="885.5,65.7 885.5,83.9 880.1,89.5" fill="none" stroke="#111" stroke-width="1"/>
<text x="879.3" y="99.6" font-size="9.7" font-weight="bold" fill="#444" textLength="6.3" lengthAdjust="spacingAndGlyphs">b</text>
<text x="885.9" y="99.2" font-size="7" font-weight="bold" fill="#444">6</text>
<polyline points="909.5,65.7 909.5,83.9 904.1,89.5" fill="none" stroke="#111" stroke-width="1"/>
<text x="903.3" y="99.6" font-size="9.7" font-weight="bold" fill="#444" textLength="6.3" lengthAdjust="spacingAndGlyphs">b</text>
<text x="909.9" y="99.2" font-size="7" font-weight="bold" fill="#444">7</text>
<polyline points="938.8,61.3 933.5,65.7 933.5,83.9 928.1,89.5" fill="none" stroke="#111" stroke-width="1"/>
<text x="938.9" y="58.2" font-size="10" font-weight="bold" fill="#999999">y</text>
<text x="945.5" y="57.2" font-size="7" font-weight="bold" fill="#999999">17</text>
<text x="927.3" y="99.6" font-size="9.7" font-weight="bold" fill="#444" textLength="6.3" lengthAdjust="spacingAndGlyphs">b</text>
<text x="933.9" y="99.2" font-size="7" font-weight="bold" fill="#444">8</text>
<polyline points="962.8,61.3 957.5,65.7 957.5,83.9 952.1,89.5" fill="none" stroke="#111" stroke-width="1"/>
<text x="962.9" y="58.2" font-size="10" font-weight="bold" fill="#999999">y</text>
<text x="969.5" y="57.2" font-size="7" font-weight="bold" fill="#999999">16</text>
<text x="951.3" y="99.6" font-size="9.7" font-weight="bold" fill="#444" textLength="6.3" lengthAdjust="spacingAndGlyphs">b</text>
<text x="957.9" y="99.2" font-size="7" font-weight="bold" fill="#444">9</text>
<polyline points="986.8,61.3 981.5,65.7 981.5,83.9 976.1,89.5" fill="none" stroke="#111" stroke-width="1"/>
<text x="986.9" y="58.2" font-size="10" font-weight="bold" fill="#999999">y</text>
<text x="993.5" y="57.2" font-size="7" font-weight="bold" fill="#999999">15</text>
<text x="975.3" y="99.6" font-size="9.7" font-weight="bold" fill="#444" textLength="6.3" lengthAdjust="spacingAndGlyphs">b</text>
<text x="981.9" y="99.2" font-size="7" font-weight="bold" fill="#444">10</text>
<polyline points="1010.8,61.3 1005.5,65.7 1005.5,83.9 1000.1,89.5" fill="none" stroke="#111" stroke-width="1"/>
<text x="1010.9" y="58.2" font-size="10" font-weight="bold" fill="#999999">y</text>
<text x="1017.5" y="57.2" font-size="7" font-weight="bold" fill="#999999">14</text>
<text x="999.3" y="99.6" font-size="9.7" font-weight="bold" fill="#444" textLength="6.3" lengthAdjust="spacingAndGlyphs">b</text>
<text x="1005.9" y="99.2" font-size="7" font-weight="bold" fill="#444">11</text>
<polyline points="1034.8,61.3 1029.5,65.7 1029.5,83.9 1024.1,89.5" fill="none" stroke="#111" stroke-width="1"/>
<text x="1034.9" y="58.2" font-size="10" font-weight="bold" fill="#999999">y</text>
<text x="1041.5" y="57.2" font-size="7" font-weight="bold" fill="#999999">13</text>
<text x="1023.3" y="99.6" font-size="9.7" font-weight="bold" fill="#444" textLength="6.3" lengthAdjust="spacingAndGlyphs">b</text>
<text x="1029.9" y="99.2" font-size="7" font-weight="bold" fill="#444">12</text>
<polyline points="1058.8,61.3 1053.5,65.7 1053.5,83.9" fill="none" stroke="#111" stroke-width="1"/>
<text x="1058.9" y="58.2" font-size="10" font-weight="bold" fill="#999999">y</text>
<text x="1065.5" y="57.2" font-size="7" font-weight="bold" fill="#999999">12</text>
<polyline points="1082.8,61.3 1077.5,65.7 1077.5,83.9" fill="none" stroke="#111" stroke-width="1"/>
<text x="1082.9" y="58.2" font-size="10" font-weight="bold" fill="#999999">y</text>
<text x="1089.5" y="57.2" font-size="7" font-weight="bold" fill="#999999">11</text>
<polyline points="1106.8,61.3 1101.5,65.7 1101.5,83.9" fill="none" stroke="#111" stroke-width="1"/>
<text x="1106.9" y="58.2" font-size="10" font-weight="bold" fill="#999999">y</text>
<text x="1113.5" y="57.2" font-size="7" font-weight="bold" fill="#999999">10</text>
<polyline points="1130.8,61.3 1125.5,65.7 1125.5,83.9" fill="none" stroke="#111" stroke-width="1"/>
<text x="1130.9" y="58.2" font-size="10" font-weight="bold" fill="#999999">y</text>
<text x="1137.5" y="57.2" font-size="7" font-weight="bold" fill="#999999">9</text>
<polyline points="1154.8,61.3 1149.5,65.7 1149.5,83.9" fill="none" stroke="#111" stroke-width="1"/>
<text x="1154.9" y="58.2" font-size="10" font-weight="bold" fill="#999999">y</text>
<text x="1161.5" y="57.2" font-size="7" font-weight="bold" fill="#999999">8</text>
<polyline points="1178.8,61.3 1173.5,65.7 1173.5,83.9" fill="none" stroke="#111" stroke-width="1"/>
<text x="1178.9" y="58.2" font-size="10" font-weight="bold" fill="#999999">y</text>
<text x="1185.5" y="57.2" font-size="7" font-weight="bold" fill="#999999">7</text>
<polyline points="1202.8,61.3 1197.5,65.7 1197.5,83.9" fill="none" stroke="#111" stroke-width="1"/>
<text x="1202.9" y="58.2" font-size="10" font-weight="bold" fill="#999999">y</text>
<text x="1209.5" y="57.2" font-size="7" font-weight="bold" fill="#999999">6</text>
<polyline points="1226.8,61.3 1221.5,65.7 1221.5,83.9" fill="none" stroke="#111" stroke-width="1"/>
<text x="1226.9" y="58.2" font-size="10" font-weight="bold" fill="#999999">y</text>
<text x="1233.5" y="57.2" font-size="7" font-weight="bold" fill="#999999">5</text>
<polyline points="1250.8,61.3 1245.5,65.7 1245.5,83.9" fill="none" stroke="#111" stroke-width="1"/>
<text x="1250.9" y="58.2" font-size="10" font-weight="bold" fill="#999999">y</text>
<text x="1257.5" y="57.2" font-size="7" font-weight="bold" fill="#999999">4</text>
<polyline points="1274.8,61.3 1269.5,65.7 1269.5,83.9" fill="none" stroke="#111" stroke-width="1"/>
<text x="1274.9" y="58.2" font-size="10" font-weight="bold" fill="#999999">y</text>
<text x="1281.5" y="57.2" font-size="7" font-weight="bold" fill="#999999">3</text>
<polyline points="1298.8,61.3 1293.5,65.7 1293.5,83.9" fill="none" stroke="#111" stroke-width="1"/>
<text x="1298.9" y="58.2" font-size="10" font-weight="bold" fill="#999999">y</text>
<text x="1305.5" y="57.2" font-size="7" font-weight="bold" fill="#999999">2</text>
<polyline points="1322.8,61.3 1317.5,65.7 1317.5,83.9" fill="none" stroke="#111" stroke-width="1"/>
<text x="1322.9" y="58.2" font-size="10" font-weight="bold" fill="#999999">y</text>
<text x="1329.5" y="57.2" font-size="7" font-weight="bold" fill="#999999">1</text>
</svg>
</body></html>
